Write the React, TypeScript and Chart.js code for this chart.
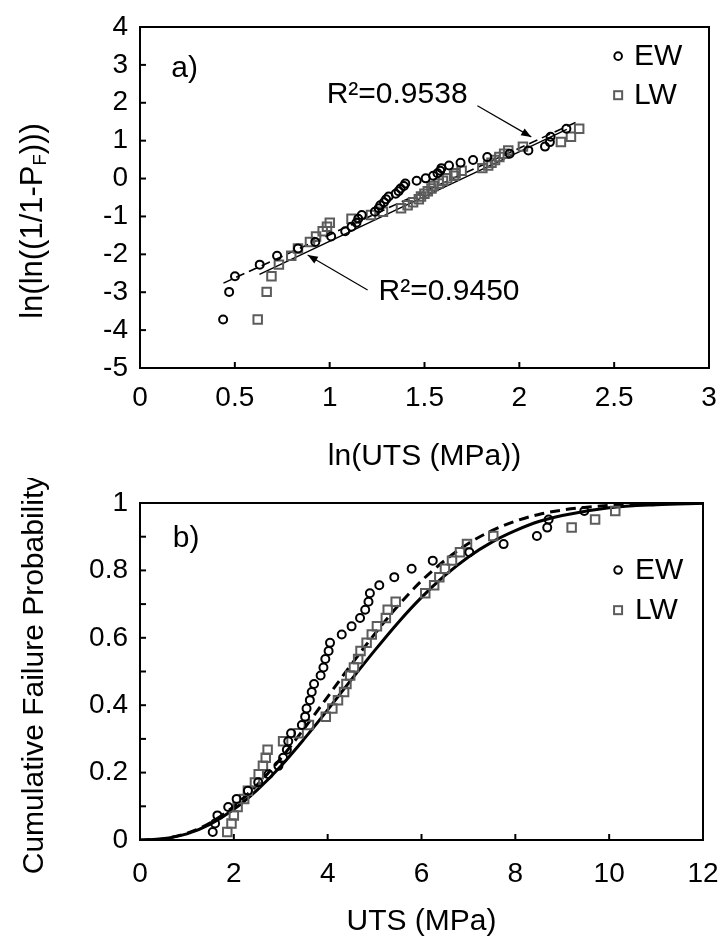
import React, { useEffect, useRef } from 'react';
import { Chart, registerables } from 'chart.js';

Chart.register(...registerables);

const FONT = "'Liberation Sans', Arial, Helvetica, sans-serif";

// ---- Data ----
// Earlywood (EW) specimens: UTS (MPa) sorted, with cumulative failure probability
const EW_UTS = [
  1.55, 1.6, 1.65, 1.88, 2.06, 2.3, 2.52, 2.74, 2.95, 3.05,
  3.13, 3.16, 3.22, 3.45, 3.52, 3.55, 3.62, 3.66, 3.71, 3.85,
  3.91, 3.95, 4.02, 4.05, 4.3, 4.51, 4.69, 4.8, 4.87, 4.9,
  5.1, 5.42, 5.79, 6.24, 7.02, 7.75, 8.46, 8.68, 8.71, 9.47,
];
const EW_F = [
  0.024, 0.049, 0.073, 0.098, 0.122, 0.146, 0.171, 0.195, 0.22, 0.244,
  0.268, 0.293, 0.317, 0.341, 0.366, 0.39, 0.415, 0.439, 0.463, 0.488,
  0.512, 0.537, 0.561, 0.585, 0.61, 0.634, 0.659, 0.683, 0.707, 0.732,
  0.756, 0.78, 0.805, 0.829, 0.854, 0.878, 0.902, 0.927, 0.951, 0.976,
];
// Latewood (LW) specimens
const LW_UTS = [
  1.86, 1.95, 2.0, 2.08, 2.22, 2.3, 2.45, 2.53, 2.62, 2.68,
  2.72, 3.05, 3.38, 3.6, 3.96, 4.1, 4.22, 4.35, 4.4, 4.48,
  4.56, 4.65, 4.7, 4.83, 4.94, 5.05, 5.24, 5.28, 5.45, 6.08,
  6.27, 6.38, 6.5, 6.65, 6.82, 6.97, 7.53, 9.2, 9.7, 10.13,
];
const LW_F = EW_F.slice();

// Weibull fit lines in panel a) (endpoints read from picture)
const EW_FIT_X = [0.44, 2.31];
const EW_FIT_Y = [-2.76, 1.51];
const LW_FIT_X = [0.63, 2.25];
const LW_FIT_Y = [-2.53, 1.3];

// Fitted cumulative curves in panel b)
const CURVE_X = [0, 0.5, 1, 1.5, 2, 2.5, 3, 3.5, 4, 4.5, 5, 5.5, 6, 6.5, 7, 7.5, 8, 8.5, 9, 10, 11, 12];
const EW_CURVE = [0, 0.004, 0.02, 0.051, 0.1, 0.164, 0.242, 0.331, 0.425, 0.52, 0.611, 0.695, 0.769, 0.83, 0.88, 0.918, 0.946, 0.966, 0.979, 0.993, 0.998, 1.0];
const LW_CURVE = [0, 0.004, 0.018, 0.047, 0.091, 0.149, 0.219, 0.3, 0.386, 0.475, 0.562, 0.645, 0.72, 0.785, 0.84, 0.884, 0.918, 0.945, 0.963, 0.986, 0.995, 0.999];

const SERIES = ['EW', 'LW'];
const R2_LABELS = ['R²=0.9538', 'R²=0.9450'];

const LW_COLOR = '#5c5c5c';

// ---- helpers ----
function drawArrow(ctx: CanvasRenderingContext2D, x1: number, y1: number, x2: number, y2: number) {
  ctx.beginPath();
  ctx.moveTo(x1, y1);
  ctx.lineTo(x2, y2);
  ctx.stroke();
  const ang = Math.atan2(y2 - y1, x2 - x1);
  const L = 10;
  const W = 4;
  ctx.beginPath();
  ctx.moveTo(x2, y2);
  ctx.lineTo(x2 - L * Math.cos(ang) + W * Math.sin(ang), y2 - L * Math.sin(ang) - W * Math.cos(ang));
  ctx.lineTo(x2 - L * Math.cos(ang) - W * Math.sin(ang), y2 - L * Math.sin(ang) + W * Math.cos(ang));
  ctx.closePath();
  ctx.fill();
}

type Part = { t: string; sub?: boolean };

function drawYTitle(ctx: CanvasRenderingContext2D, parts: Part[], cx: number, cy: number, size: number) {
  ctx.save();
  ctx.translate(cx, cy);
  ctx.rotate(-Math.PI / 2);
  ctx.fillStyle = '#000';
  ctx.textAlign = 'left';
  ctx.textBaseline = 'alphabetic';
  const subSize = size * 0.6;
  const widths = parts.map((p) => {
    ctx.font = `${p.sub ? subSize : size}px ${FONT}`;
    return ctx.measureText(p.t).width;
  });
  const total = widths.reduce((a, b) => a + b, 0);
  let x = -total / 2;
  const base = size * 0.36;
  parts.forEach((p, i) => {
    ctx.font = `${p.sub ? subSize : size}px ${FONT}`;
    ctx.fillText(p.t, x, p.sub ? base + size * 0.12 : base);
    x += widths[i];
  });
  ctx.restore();
}

type OverlayCfg = {
  yTitle: Part[];
  yTitleSize: number;
  yTitleX: number;
  yTitleY: number;
  yTickStep: number;
  panel: { text: string; x: number; y: number };
  legend: { mx: number; tx: number; y: number[] };
  r2?: { text: string; tx: number; ty: number; ax1: number; ay1: number; ax2: number; ay2: number }[];
};

function overlayPlugin(cfg: OverlayCfg) {
  return {
    id: 'overlay',
    afterDraw(chart: any) {
      const { ctx, chartArea: a, scales } = chart;
      const xs = scales.x;
      const ys = scales.y;
      ctx.save();
      // frame
      ctx.strokeStyle = '#000';
      ctx.lineWidth = 2;
      ctx.strokeRect(a.left, a.top, a.right - a.left, a.bottom - a.top);
      // inward ticks
      xs.ticks.forEach((t: any) => {
        const px = xs.getPixelForValue(t.value);
        ctx.beginPath();
        ctx.moveTo(px, a.bottom);
        ctx.lineTo(px, a.bottom - 6);
        ctx.stroke();
      });
      const n = Math.round((ys.max - ys.min) / cfg.yTickStep);
      for (let k = 0; k <= n; k++) {
        const v = ys.min + k * cfg.yTickStep;
        const py = ys.getPixelForValue(v);
        ctx.beginPath();
        ctx.moveTo(a.left, py);
        ctx.lineTo(a.left + 6, py);
        ctx.stroke();
      }
      // y title
      drawYTitle(ctx, cfg.yTitle, cfg.yTitleX, cfg.yTitleY, cfg.yTitleSize);
      // panel label
      ctx.fillStyle = '#000';
      ctx.font = `30px ${FONT}`;
      ctx.textAlign = 'left';
      ctx.textBaseline = 'middle';
      ctx.fillText(cfg.panel.text, xs.getPixelForValue(cfg.panel.x), ys.getPixelForValue(cfg.panel.y));
      // R2 annotations
      (cfg.r2 || []).forEach((r) => {
        ctx.fillStyle = '#000';
        ctx.font = `30px ${FONT}`;
        ctx.textAlign = 'left';
        ctx.textBaseline = 'middle';
        ctx.fillText(r.text, xs.getPixelForValue(r.tx), ys.getPixelForValue(r.ty));
        ctx.strokeStyle = '#000';
        ctx.lineWidth = 1.2;
        drawArrow(
          ctx,
          xs.getPixelForValue(r.ax1),
          ys.getPixelForValue(r.ay1),
          xs.getPixelForValue(r.ax2),
          ys.getPixelForValue(r.ay2)
        );
      });
      // legend
      const mx = xs.getPixelForValue(cfg.legend.mx);
      const tx = xs.getPixelForValue(cfg.legend.tx);
      SERIES.forEach((name, i) => {
        const py = ys.getPixelForValue(cfg.legend.y[i]);
        ctx.lineWidth = 2;
        if (i === 0) {
          ctx.strokeStyle = '#000';
          ctx.beginPath();
          ctx.arc(mx, py, 3.8, 0, Math.PI * 2);
          ctx.stroke();
        } else {
          ctx.strokeStyle = LW_COLOR;
          ctx.strokeRect(mx - 4, py - 4, 8, 8);
        }
        ctx.fillStyle = '#000';
        ctx.font = `30px ${FONT}`;
        ctx.textAlign = 'left';
        ctx.textBaseline = 'middle';
        ctx.fillText(name, tx, py + 1);
      });
      ctx.restore();
    },
  };
}

const tickFont = { family: FONT, size: 28 };
const titleFont = { family: FONT, size: 30 };
const fmt = (v: any) => String(Number(v));

const ewPointStyle = {
  pointStyle: 'circle',
  pointRadius: 4,
  pointBorderWidth: 2,
  pointBorderColor: '#000',
  pointBackgroundColor: 'rgba(0,0,0,0)',
};
const lwPointStyle = {
  pointStyle: 'rect',
  pointRadius: 6,
  pointBorderWidth: 2,
  pointBorderColor: LW_COLOR,
  pointBackgroundColor: 'rgba(0,0,0,0)',
};

function fitX(h: number) {
  return (s: any) => {
    s.height = h;
    s.paddingLeft = 0;
    s.paddingRight = 0;
  };
}
function fitY(w: number) {
  return (s: any) => {
    s.width = w;
    s.paddingTop = 0;
    s.paddingBottom = 0;
  };
}

function topConfig(): any {
  const ewPts = EW_UTS.map((u, i) => ({ x: Math.log(u), y: Math.log(-Math.log(1 - EW_F[i])) }));
  const lwPts = LW_UTS.map((u, i) => ({ x: Math.log(u), y: Math.log(-Math.log(1 - LW_F[i])) }));
  return {
    type: 'scatter',
    data: {
      datasets: [
        { label: 'EW', data: ewPts, ...ewPointStyle },
        { label: 'LW', data: lwPts, ...lwPointStyle },
        {
          label: 'EW fit',
          data: EW_FIT_X.map((x, i) => ({ x, y: EW_FIT_Y[i] })),
          showLine: true,
          borderColor: '#000',
          borderWidth: 1.6,
          borderDash: [9, 5],
          pointRadius: 0,
        },
        {
          label: 'LW fit',
          data: LW_FIT_X.map((x, i) => ({ x, y: LW_FIT_Y[i] })),
          showLine: true,
          borderColor: '#000',
          borderWidth: 1.4,
          pointRadius: 0,
        },
      ],
    },
    options: {
      responsive: false,
      animation: false,
      devicePixelRatio: 1,
      layout: { padding: { left: 0, top: 27, right: 13, bottom: 0 } },
      plugins: { legend: { display: false }, tooltip: { enabled: false } },
      scales: {
        x: {
          type: 'linear',
          min: 0,
          max: 3,
          ticks: { stepSize: 0.5, font: tickFont, color: '#000', padding: 13, callback: fmt },
          grid: { display: false, drawTicks: false },
          border: { display: false },
          title: { display: true, text: 'ln(UTS (MPa))', font: titleFont, color: '#000', padding: { top: 0, bottom: 3 } },
          afterFit: fitX(110),
        },
        y: {
          type: 'linear',
          min: -5,
          max: 4,
          ticks: { stepSize: 1, font: tickFont, color: '#000', padding: 12, callback: fmt },
          grid: { display: false, drawTicks: false },
          border: { display: false },
          afterFit: fitY(140),
        },
      },
    },
    plugins: [
      overlayPlugin({
        yTitle: [{ t: 'ln(ln((1/1-P' }, { t: 'F', sub: true }, { t: ')))' }],
        yTitleSize: 31,
        yTitleX: 31,
        yTitleY: 221,
        yTickStep: 1,
        panel: { text: 'a)', x: 0.165, y: 2.9 },
        legend: { mx: 2.521, tx: 2.605, y: [3.23, 2.2] },
        r2: [
          { text: R2_LABELS[0], tx: 0.984, ty: 2.2, ax1: 1.779, ay1: 1.92, ax2: 2.063, ay2: 1.1 },
          { text: R2_LABELS[1], tx: 1.258, ty: -3.0, ax1: 1.2, ay1: -2.94, ax2: 0.884, ay2: -2.02 },
        ],
      }),
    ],
  };
}

function bottomConfig(): any {
  return {
    type: 'scatter',
    data: {
      datasets: [
        { label: 'EW', data: EW_UTS.map((u, i) => ({ x: u, y: EW_F[i] })), ...ewPointStyle },
        { label: 'LW', data: LW_UTS.map((u, i) => ({ x: u, y: LW_F[i] })), ...lwPointStyle },
        {
          label: 'EW curve',
          data: CURVE_X.map((x, i) => ({ x, y: EW_CURVE[i] })),
          showLine: true,
          borderColor: '#000',
          borderWidth: 3,
          borderDash: [10, 6],
          cubicInterpolationMode: 'monotone',
          pointRadius: 0,
        },
        {
          label: 'LW curve',
          data: CURVE_X.map((x, i) => ({ x, y: LW_CURVE[i] })),
          showLine: true,
          borderColor: '#000',
          borderWidth: 3,
          cubicInterpolationMode: 'monotone',
          pointRadius: 0,
        },
      ],
    },
    options: {
      responsive: false,
      animation: false,
      devicePixelRatio: 1,
      layout: { padding: { left: 0, top: 25, right: 19, bottom: 0 } },
      plugins: { legend: { display: false }, tooltip: { enabled: false } },
      scales: {
        x: {
          type: 'linear',
          min: 0,
          max: 12,
          ticks: { stepSize: 2, font: tickFont, color: '#000', padding: 17, callback: fmt },
          grid: { display: false, drawTicks: false },
          border: { display: false },
          title: { display: true, text: 'UTS (MPa)', font: titleFont, color: '#000', padding: { top: 0, bottom: 1 } },
          afterFit: fitX(101),
        },
        y: {
          type: 'linear',
          min: 0,
          max: 1,
          ticks: { stepSize: 0.2, font: tickFont, color: '#000', padding: 12, callback: fmt },
          grid: { display: false, drawTicks: false },
          border: { display: false },
          afterFit: fitY(140),
        },
      },
    },
    plugins: [
      overlayPlugin({
        yTitle: [{ t: 'Cumulative Failure Probability' }],
        yTitleSize: 30,
        yTitleX: 32,
        yTitleY: 675 - 478,
        yTickStep: 0.1,
        panel: { text: 'b)', x: 0.7, y: 0.893 },
        legend: { mx: 10.19, tx: 10.55, y: [0.801, 0.682] },
      }),
    ],
  };
}

export default function App() {
  const topRef = useRef<HTMLCanvasElement>(null);
  const botRef = useRef<HTMLCanvasElement>(null);
  useEffect(() => {
    const c1 = new Chart(topRef.current as HTMLCanvasElement, topConfig());
    const c2 = new Chart(botRef.current as HTMLCanvasElement, bottomConfig());
    return () => {
      c1.destroy();
      c2.destroy();
    };
  }, []);
  return (
    <div style={{ position: 'absolute', left: 0, top: 0, width: 722, height: 941, background: '#fff' }}>
      <canvas ref={topRef} width={722} height={478} style={{ position: 'absolute', left: 0, top: 0 }} />
      <canvas ref={botRef} width={722} height={463} style={{ position: 'absolute', left: 0, top: 478 }} />
    </div>
  );
}
